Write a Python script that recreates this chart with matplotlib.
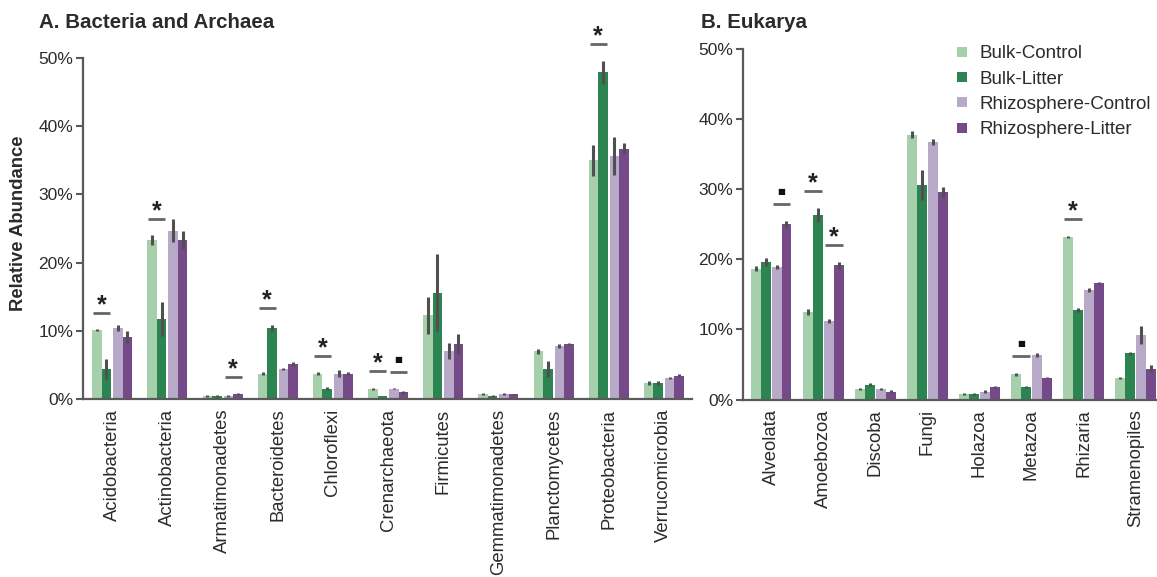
import matplotlib
matplotlib.use("Agg")
import matplotlib.pyplot as plt
from matplotlib.lines import Line2D
import numpy as np

plt.rcParams['font.family'] = ['Liberation Sans', 'DejaVu Sans']

groups = ['Bulk-Control', 'Bulk-Litter', 'Rhizosphere-Control', 'Rhizosphere-Litter']
colors = ['#a6d0ab', '#2c8450', '#b9a9c8', '#764a89']

# bacteria and archaea, mean relative abundance (%) and error
taxa_a = ['Acidobacteria', 'Actinobacteria', 'Armatimonadetes', 'Bacteroidetes',
          'Chloroflexi', 'Crenarchaeota', 'Firmicutes', 'Gemmatimonadetes',
          'Planctomycetes', 'Proteobacteria', 'Verrucomicrobia']
bc_a = [10.1, 23.3, 0.45, 3.7, 3.7, 1.5, 12.3, 0.7, 7.0, 35.0, 2.3]
bl_a = [4.4, 11.7, 0.45, 10.4, 1.5, 0.45, 15.6, 0.45, 4.4, 47.9, 2.3]
rc_a = [10.4, 24.7, 0.45, 4.4, 3.7, 1.5, 7.0, 0.7, 7.8, 35.6, 3.1]
rl_a = [9.1, 23.3, 0.75, 5.1, 3.7, 1.0, 8.1, 0.7, 8.1, 36.7, 3.4]
bc_a_err = [0.15, 0.7, 0.1, 0.2, 0.2, 0.15, 2.7, 0.15, 0.4, 2.3, 0.3]
bl_a_err = [1.5, 2.5, 0.1, 0.5, 0.2, 0.05, 5.7, 0.1, 1.2, 1.7, 0.3]
rc_a_err = [0.5, 1.7, 0.1, 0.2, 0.5, 0.1, 1.2, 0.15, 0.3, 2.8, 0.15]
rl_a_err = [0.9, 1.3, 0.1, 0.3, 0.2, 0.2, 1.5, 0.1, 0.15, 0.8, 0.2]

# eukarya
taxa_b = ['Alveolata', 'Amoebozoa', 'Discoba', 'Fungi', 'Holazoa',
          'Metazoa', 'Rhizaria', 'Stramenopiles']
bc_b = [18.7, 12.5, 1.5, 37.8, 0.8, 3.6, 23.2, 3.1]
bl_b = [19.6, 26.4, 2.1, 30.6, 0.8, 1.8, 12.8, 6.6]
rc_b = [18.9, 11.2, 1.5, 36.8, 1.1, 6.4, 15.6, 9.2]
rl_b = [25.0, 19.2, 1.1, 29.6, 1.8, 3.1, 16.6, 4.4]
bc_b_err = [0.3, 0.4, 0.15, 0.5, 0.1, 0.2, 0.1, 0.15]
bl_b_err = [0.6, 1.0, 0.2, 2.1, 0.1, 0.1, 0.3, 0.2]
rc_b_err = [0.3, 0.3, 0.15, 0.4, 0.2, 0.3, 0.3, 1.3]
rl_b_err = [0.5, 0.5, 0.2, 0.7, 0.1, 0.1, 0.15, 0.5]

# significant contrasts: taxon, compared pair (bulk / rhizosphere), symbol
sig_a_taxa = ['Acidobacteria', 'Actinobacteria', 'Armatimonadetes', 'Bacteroidetes',
              'Chloroflexi', 'Crenarchaeota', 'Crenarchaeota', 'Proteobacteria']
sig_a_pair = ['bulk', 'bulk', 'rhizo', 'bulk', 'bulk', 'bulk', 'rhizo', 'bulk']
sig_a_mark = ['*', '*', '*', '*', '*', '*', '.', '*']
sig_b_taxa = ['Alveolata', 'Amoebozoa', 'Amoebozoa', 'Metazoa', 'Rhizaria']
sig_b_pair = ['rhizo', 'bulk', 'rhizo', 'bulk', 'bulk']
sig_b_mark = ['.', '*', '*', '.', '*']

W, H = 1157, 577
fig = plt.figure(figsize=(W / 100, H / 100), dpi=100)

axis_col = '#5a5a5a'
text_col = '#2b2b2b'


def panel(rect, taxa, vals, errs, sig_taxa, sig_pair, sig_mark, w, g, ylim, xlim):
    ax = fig.add_axes(rect)
    x = np.arange(len(taxa))
    offs = [-(g / 2 + 1.5 * w), -(g / 2 + 0.5 * w), g / 2 + 0.5 * w, g / 2 + 1.5 * w]
    for k in range(4):
        ax.bar(x + offs[k], vals[k], width=w, color=colors[k], label=groups[k],
               yerr=errs[k], error_kw=dict(ecolor='#505050', elinewidth=2.2, capsize=0),
               linewidth=0)
    tops = [np.array(vals[k]) + np.array(errs[k]) for k in range(4)]
    for t, p, m in zip(sig_taxa, sig_pair, sig_mark):
        i = taxa.index(t)
        ks = (0, 1) if p == 'bulk' else (2, 3)
        cx = i + (offs[ks[0]] + offs[ks[1]]) / 2
        y = max(tops[ks[0]][i], tops[ks[1]][i]) + 2.4
        ax.plot([cx - 0.9 * w, cx + 0.9 * w], [y, y], color='#666666', lw=2,
                solid_capstyle='butt', clip_on=False)
        if m == '*':
            ax.annotate('*', (cx, y), xytext=(0, -3), textcoords='offset points',
                        ha='center', va='bottom', fontsize=18, fontweight='bold',
                        color='#222222', annotation_clip=False)
        else:
            ax.annotate('■', (cx, y), xytext=(0, 5.5), textcoords='offset points',
                        ha='center', va='bottom', fontsize=6, color='#111111',
                        family='DejaVu Sans', annotation_clip=False)
    ax.set_xlim(*xlim)
    ax.set_ylim(*ylim)
    ax.set_yticks(range(0, 51, 10))
    ax.set_yticklabels(['%d%%' % v for v in range(0, 51, 10)])
    ax.set_xticks(x)
    ax.set_xticklabels(taxa, rotation=90, va='top', ha='center')
    ax.tick_params(axis='x', length=0, pad=7, labelsize=13.3, labelcolor=text_col)
    ax.tick_params(axis='y', length=5, width=1.5, color=axis_col, pad=2,
                   labelsize=12.5, labelcolor=text_col)
    for s in ('top', 'right'):
        ax.spines[s].set_visible(False)
    for s in ('left', 'bottom'):
        ax.spines[s].set_color(axis_col)
        ax.spines[s].set_linewidth(1.6)
    ax.spines['left'].set_bounds(0, 50)
    return ax


def frac_rect(left, right, y0, y50, ymax):
    px = (y0 - y50) / 50.0
    top = y0 - ymax * px
    return [left / W, 1 - y0 / H, (right - left) / W, (y0 - top) / H]


ax_a = panel(frac_rect(83, 692, 399, 58, 53), taxa_a,
             [bc_a, bl_a, rc_a, rl_a], [bc_a_err, bl_a_err, rc_a_err, rl_a_err],
             sig_a_taxa, sig_a_pair, sig_a_mark, w=0.172, g=0.036,
             ylim=(0, 53), xlim=(-0.53, 10.51))
ax_b = panel(frac_rect(743, 1157, 399.5, 49.3, 51), taxa_b,
             [bc_b, bl_b, rc_b, rl_b], [bc_b_err, bl_b_err, rc_b_err, rl_b_err],
             sig_b_taxa, sig_b_pair, sig_b_mark, w=0.19, g=0.02,
             ylim=(0, 51), xlim=(-0.54, 7.41))

handles = [Line2D([], [], ls='none', marker='s', markersize=7.5, markeredgewidth=0,
                  color=c) for c in colors]
fig.legend(handles, groups, loc='upper left', bbox_to_anchor=(954 / W, 1 - 45 / H),
           frameon=False, fontsize=13.5, handlelength=0.9, handletextpad=0.45,
           labelspacing=0.44, borderpad=0, borderaxespad=0, labelcolor=text_col)

fig.text(39 / W, 1 - 28 / H, 'A. Bacteria and Archaea', fontsize=14.8,
         fontweight='bold', color=text_col, va='baseline')
fig.text(701 / W, 1 - 28 / H, 'B. Eukarya', fontsize=14.8, fontweight='bold',
         color=text_col, va='baseline')
fig.text(19 / W, 1 - 223 / H, 'Relative Abundance', rotation=90, fontsize=13.3,
         fontweight='bold', color=text_col, ha='center', va='center')

fig.savefig('out.png', dpi=100)
